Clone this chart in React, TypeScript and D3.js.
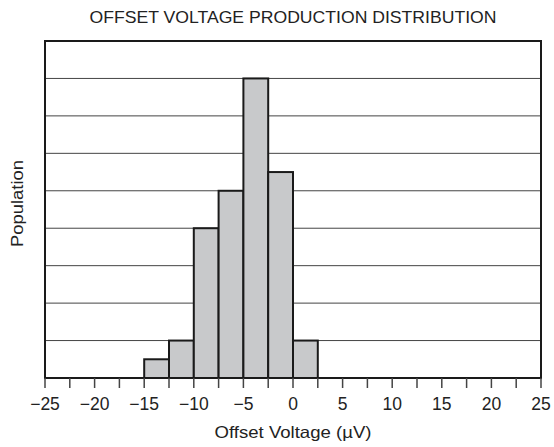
import React from 'react';
import * as d3 from 'd3';

// histogram bins (µV) and population heights (in grid units)
const binStarts = [-15, -12.5, -10, -7.5, -5, -2.5, 0];
const binWidth = 2.5;
const counts = [0.5, 1, 4, 5, 8, 5.5, 1];
const xTickLabels = [-25, -20, -15, -10, -5, 0, 5, 10, 15, 20, 25];
const xMinorTicks = d3.range(-25, 25.01, 2.5);
const yGridLines = [1, 2, 3, 4, 5, 6, 7, 8];

const W = 554;
const H = 447;
const margin = { top: 41, right: 13, bottom: 69, left: 45 };
const FONT = 'Arial, "Liberation Sans", Helvetica, sans-serif';

export default function App() {
  const x = d3.scaleLinear().domain([-25, 25]).range([margin.left, W - margin.right]);
  const y = d3.scaleLinear().domain([0, 9]).range([H - margin.bottom, margin.top]);
  const fmt = d3.format('');

  return (
    <div style={{ position: 'absolute', left: 0, top: 0 }}>
      <svg width={W} height={H} style={{ display: 'block', background: '#fff' }}>
        <text
          x={(x(-25) + x(25)) / 2}
          y={23}
          textAnchor="middle"
          fontFamily={FONT}
          fontSize={16.5}
          fill="#222"
          textLength={407}
          lengthAdjust="spacingAndGlyphs"
        >
          OFFSET VOLTAGE PRODUCTION DISTRIBUTION
        </text>

        {/* grid */}
        {yGridLines.map(g => (
          <line key={g} x1={x(-25)} x2={x(25)} y1={y(g)} y2={y(g)} stroke="#444" strokeWidth={1} />
        ))}

        {/* bars */}
        {binStarts.map((b, i) => (
          <rect
            key={b}
            x={x(b)}
            y={y(counts[i])}
            width={x(b + binWidth) - x(b)}
            height={y(0) - y(counts[i])}
            fill="#c8c9cb"
            stroke="#1a1a1a"
            strokeWidth={2}
          />
        ))}

        {/* frame */}
        <rect x={x(-25)} y={y(9)} width={x(25) - x(-25)} height={y(0) - y(9)} fill="none" stroke="#1a1a1a" strokeWidth={2} />

        {/* x ticks */}
        {xMinorTicks.map(t => (
          <line key={t} x1={x(t)} x2={x(t)} y1={y(0)} y2={y(0) + 10} stroke="#444" strokeWidth={1.5} />
        ))}
        {xTickLabels.map(t => (
          <text key={t} x={x(t)} y={410} textAnchor="middle" fontFamily={FONT} fontSize={17.5} fill="#222">
            {fmt(t)}
          </text>
        ))}

        <text
          x={(x(-25) + x(25)) / 2}
          y={438}
          textAnchor="middle"
          fontFamily={FONT}
          fontSize={16.5}
          fill="#222"
          textLength={157}
          lengthAdjust="spacingAndGlyphs"
        >
          Offset Voltage (µV)
        </text>
        <text
          transform={`translate(23,${(y(0) + y(9)) / 2 - 6}) rotate(-90)`}
          textAnchor="middle"
          fontFamily={FONT}
          fontSize={16.5}
          fill="#222"
          textLength={87}
          lengthAdjust="spacingAndGlyphs"
        >
          Population
        </text>
      </svg>
    </div>
  );
}
